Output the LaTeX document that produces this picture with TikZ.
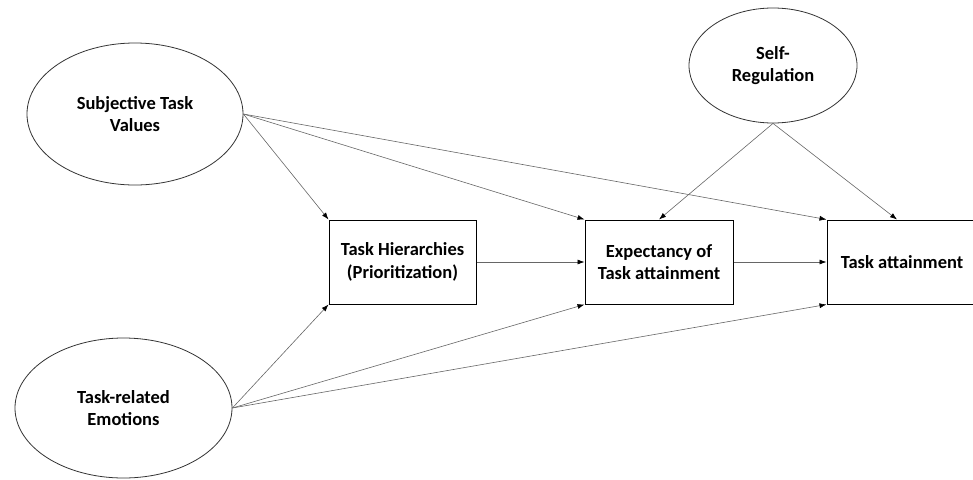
\documentclass[tikz,border=0pt]{standalone}
\usepackage{fontspec}
\setmainfont{Carlito}
\usepackage{tikz}
\usetikzlibrary{positioning,arrows,arrows.meta,calc}
\usetikzlibrary{shapes.geometric}

\begin{document}
\begin{tikzpicture}[>={Latex[length=7pt,width=5pt,black]},x=1pt,y=-1pt,
	latent/.style={ellipse,draw=black!80,line width=0.8pt,inner sep=0pt,align=center,
		font=\fontsize{18.5}{22.5}\selectfont\bfseries},
	observed/.style={rectangle,draw=black,line width=1pt,inner sep=0pt,align=center,
		minimum height=84pt,font=\fontsize{18.5}{22.5}\selectfont\bfseries},
	path/.style={->,draw=black!60,line width=0.6pt}]
\useasboundingbox (0,0) rectangle (973,479);

\node[latent,minimum width=216pt,minimum height=142pt] (STV) at (135,114) {Subjective Task\\Values};
\node[latent,minimum width=168pt,minimum height=115pt] (SR) at (773,65.5) {Self-\\Regulation};
\node[latent,minimum width=217pt,minimum height=140pt] (TRE) at (123.5,408) {Task-related\\Emotions};

\node[observed,minimum width=147pt] (TH) at (402.5,262) {Task Hierarchies\\(Prioritization)};
\node[observed,minimum width=148pt] (ETA) at (659,262) {Expectancy of\\Task attainment};
\node[observed,minimum width=150pt] (TA) at (902,262) {Task attainment};

\draw [path] (STV.east) -- (TH.north west);
\draw [path] (STV.east) -- (ETA.north west);
\draw [path] (STV.east) -- (TA.north west);
\draw [path] (TRE.east) -- (TH.south west);
\draw [path] (TRE.east) -- (ETA.south west);
\draw [path] (TRE.east) -- (TA.south west);
\draw [path] (SR.south) -- (ETA.north);
\draw [path] (SR.south) -- ($(TA.north)+(-5,0)$);
\draw [path] (TH) -- (ETA);
\draw [path] (ETA) -- (TA);
\end{tikzpicture}
\end{document}
